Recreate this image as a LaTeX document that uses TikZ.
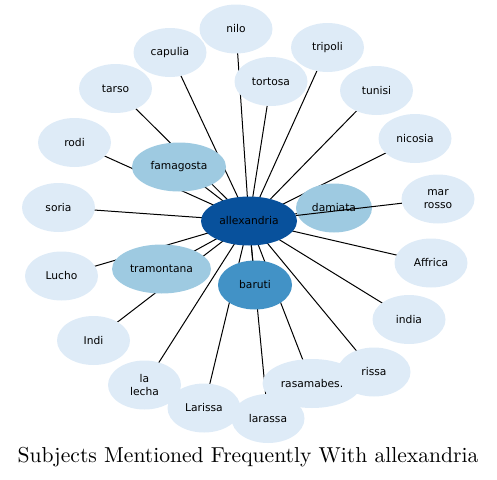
\documentclass[tikz,border=0pt]{standalone}
\usepackage{fontspec}
\newfontfamily\labelfont{DejaVu Sans}
\newfontfamily\titlefont{lmroman10-regular}[Extension=.otf]
\usetikzlibrary{shapes.geometric}
\definecolor{paleblue}{RGB}{222,235,247}
\definecolor{midblue}{RGB}{158,202,225}
\definecolor{strongblue}{RGB}{66,146,198}
\definecolor{deepblue}{RGB}{8,81,156}
\pgfdeclarelayer{background}
\pgfsetlayers{background,main}

\begin{document}
\begin{tikzpicture}[x=1pt,y=-1pt,
  subject/.style={ellipse,fill=paleblue,inner sep=0pt,minimum width=73pt,
                  minimum height=49pt,align=center,
                  font=\labelfont\fontsize{10.7}{12.7}\selectfont},
  frequent/.style={subject,fill=midblue},
  link/.style={draw=black,line width=1pt}
]
\useasboundingbox (0,0) rectangle (497,479);
% outer ring
\node[subject] (nilo) at (236,29) {nilo};
\node[subject] (capulia) at (170,52.5) {capulia};
\node[subject] (tarso) at (115.5,88.5) {tarso};
\node[subject] (rodi) at (74.5,142.5) {rodi};
\node[subject] (soria) at (58.5,207.5) {soria};
\node[subject] (lucho) at (61.5,276) {Lucho};
\node[subject] (indi) at (93.5,340.5) {Indi};
\node[subject] (lalecha) at (144.5,385) {la\\lecha};
\node[subject] (larissa) at (204,408) {Larissa};
\node[subject] (rissa) at (374,372) {rissa};
\node[subject,minimum width=99pt] (rasamabes) at (312,383.5) {rasamabes.};
\node[subject] (larassa) at (268,418.5) {larassa};
\node[subject] (india) at (409,319.5) {india};
\node[subject] (affrica) at (431,263) {Affrica};
\node[subject] (marrosso) at (438,199) {mar\\rosso};
\node[subject] (nicosia) at (415,138.5) {nicosia};
\node[subject] (tunisi) at (376.5,90.5) {tunisi};
\node[subject] (tripoli) at (327.5,47.5) {tripoli};
\node[subject] (tortosa) at (271,81.5) {tortosa};
% inner ring
\node[frequent,minimum width=94pt] (famagosta) at (179,167) {famagosta};
\node[frequent,minimum width=99pt] (tramontana) at (161.5,269) {tramontana};
\node[frequent,minimum width=76pt] (damiata) at (334,208) {damiata};
\node[subject,fill=strongblue,minimum width=74pt] (baruti) at (255,285) {baruti};
\node[subject,fill=deepblue,minimum width=96pt] (alex) at (249,221) {allexandria};
% connectors
\begin{pgfonlayer}{background}
\draw[link] (alex.center) -- (nilo.center);
\draw[link] (alex.center) -- (capulia.center);
\draw[link] (alex.center) -- (tarso.center);
\draw[link] (alex.center) -- (rodi.center);
\draw[link] (alex.center) -- (soria.center);
\draw[link] (alex.center) -- (lucho.center);
\draw[link] (alex.center) -- (indi.center);
\draw[link] (alex.center) -- (lalecha.center);
\draw[link] (alex.center) -- (larissa.center);
\draw[link] (alex.center) -- (larassa.center);
\draw[link] (alex.center) -- (rasamabes.center);
\draw[link] (alex.center) -- (rissa.center);
\draw[link] (alex.center) -- (india.center);
\draw[link] (alex.center) -- (affrica.center);
\draw[link] (alex.center) -- (nicosia.center);
\draw[link] (alex.center) -- (tunisi.center);
\draw[link] (alex.center) -- (tripoli.center);
\draw[link] (alex.center) -- (tortosa.center);
\draw[link] (alex.center) -- (famagosta.center);
\draw[link] (alex.center) -- (tramontana.center);
\draw[link] (alex.center) -- (damiata.center);
\draw[link] (alex.center) -- (baruti.center);
\end{pgfonlayer}
\draw[link] (alex) -- (marrosso);
% caption
\node[anchor=base] (title) at (248,462)
  {\titlefont\fontsize{21.6}{26}\selectfont Subjects Mentioned Frequently With allexandria};
\end{tikzpicture}
\end{document}
